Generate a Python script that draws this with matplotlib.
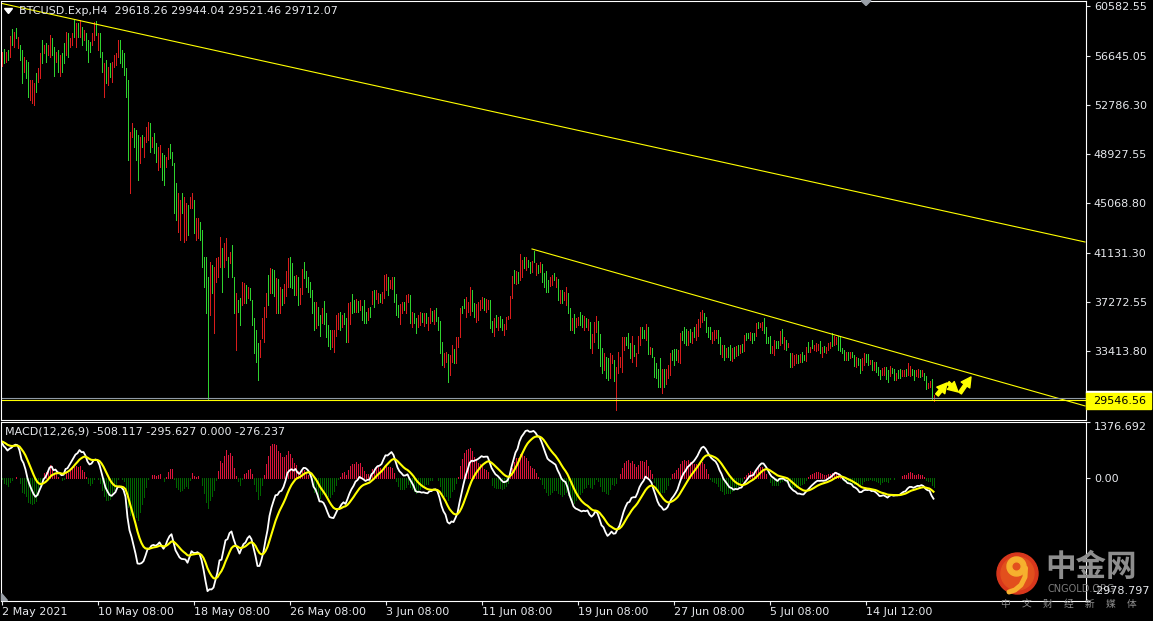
import numpy as np
import matplotlib
matplotlib.use("Agg")
import matplotlib.pyplot as plt
from matplotlib.patches import Polygon, Rectangle, Circle, Wedge

W, H = 1153, 621

# ---------------- data ----------------
symbol_text = "BTCUSD.Exp,H4  29618.26 29944.04 29521.46 29712.07"
macd_text = "MACD(12,26,9) -508.117 -295.627 0.000 -276.237"
last_macd, last_signal, last_hist = -508.117, -295.627, -276.237

# H4 bars, 2 May 2021 08:00 onwards
highs = [
    57020, 57200, 57020, 57150, 58260, 58780, 58600, 58860, 58200, 57550,
    57150, 56630, 56370, 56230, 54790, 54790, 54530, 55320, 55710, 56890,
    57940, 57550, 57680, 57550, 58330, 58070, 57420, 57020, 57150, 56760,
    56890, 57680, 58600, 58470, 58070, 58470, 59520, 59250, 59250, 59520,
    58990, 58730, 58470, 57940, 57810, 58470, 59380, 59460, 58470, 58470,
    57020, 56100, 56370, 55840, 56100, 56230, 56760, 56890, 57940, 57940,
    57150, 56890, 55710, 54790, 50720, 51380, 50980, 50850, 50460, 50330,
    50460, 50330, 51120, 51510, 51380, 50330, 50590, 49800, 49540, 49670,
    49020, 48880, 48750, 49410, 49750, 49150, 48230, 46650, 45870, 45340,
    45870, 45600, 45080, 44950, 45600, 45870, 45340, 43900, 43900, 43630,
    42980, 40880, 40880, 39300, 40480, 40220, 40090, 40750, 40880, 42450,
    41530, 41930, 42320, 40880, 41270, 41800, 39300, 37990, 37470, 37600,
    38910, 38780, 38650, 38520, 38380, 37470, 36020, 35100, 34050, 34320,
    36020, 36940, 37990, 39430, 39960,
    39880, 39830, 39170, 39120, 38520, 38310, 38730, 39780, 40780, 40880,
    40360, 39380, 39440, 39310, 38390, 39910, 40460, 39750, 39280, 38910,
    38260, 37340, 37340, 36890, 36290, 36810, 37390, 36420, 35500, 35110,
    35110, 35110, 36290, 36420, 36550, 36290, 36420, 36080, 37260, 37340,
    37940, 37470, 37520, 37420, 37470, 37000, 37470, 36550, 36860, 36940,
    38200, 38260, 38260, 38050, 37940, 38120, 39440, 39520, 39310, 39040,
    39310, 39310, 37940, 37070, 37150, 37340, 37340, 37860, 37910, 37860,
    36550, 36420, 36020, 36290, 36550, 36470, 36420, 36420, 36100, 36810,
    36630, 36680, 36810, 36100, 35810, 34160, 33270, 33400, 33220, 33140,
    33920, 33610, 34530, 34580, 36810, 37000, 37520, 37730, 37340, 38520,
    38260, 37260, 37150, 37310, 37470, 37730, 37600, 37520, 37470, 37470,
    35840, 36020, 36290, 36160, 36210, 35950, 35580, 36160, 36210, 37780,
    39360, 39830, 39780, 39700, 41090, 40620, 40830, 40830, 40620, 40490,
    40570, 41350, 40360, 40220, 40490,
    40300, 39570, 39750, 39040, 39310, 39440, 39570, 39310, 39120, 38260,
    38260, 38120, 38470, 37990, 36810, 36020, 36370, 36020, 36160, 36550,
    36290, 36210, 36020, 35950, 35760, 34790, 35760, 36210, 35840, 34790,
    33660, 33270, 33010, 32870, 33320, 33140, 32740, 32220, 33400, 33010,
    34530, 34530, 34580, 34900, 34060, 34630, 33920, 33320, 34630, 35370,
    35320, 35110, 35580, 35370, 33790, 33660, 33010, 32480, 32010, 32870,
    32010, 32010, 32010, 32350, 33320, 33530, 33580, 33580, 33530, 34840,
    35050, 35320, 35160, 35050, 35160, 34970, 35320, 35580, 35950, 36550,
    36680, 36420, 36100, 35370, 35370, 34970, 35110, 35110, 35110, 34580,
    33920, 33920, 33660, 33790, 33920, 33660, 33740, 33850, 33920, 33920,
    34000, 34710, 34840, 34840, 34970, 34840, 34840, 35680, 35760, 35680,
    35760, 36020, 35320, 34530, 34630, 33850, 34320, 34270, 34240, 35050,
    35160, 34530, 34320, 34060, 33270, 33270, 33140, 33220, 33140, 33220,
    33400, 33130, 33790, 34180, 33790, 34320, 33920, 34050, 34000, 34240,
    33790, 33840, 33740, 34050, 34180, 34890, 34630, 34580, 34630, 34580,
    33660, 33530, 33400, 33400, 33400, 33400, 33130, 33000, 32870, 32790,
    32870, 33320, 33210, 33210, 32740, 32740, 32610, 32610, 32220, 31950,
    32080, 32160, 32220, 31950, 32270, 32080, 32010, 31690, 31950, 32010,
    31950, 31950, 32010, 32480, 32270, 32010, 31950, 31950, 32010, 31950,
    31950, 31690, 31480, 30960, 31110, 31220, 29944.04,
]

lows = [
    55920, 56100, 56230, 56370, 56630, 57550, 57420, 58070, 57280, 56370,
    54530, 55450, 54920, 53480, 53220, 52950, 52820, 53870, 54660, 54920,
    56100, 56890, 56230, 56760, 56630, 56760, 55100, 56230, 55450, 55100,
    55450, 56100, 56760, 56630, 57420, 57550, 58200, 57420, 58200, 58200,
    57550, 57940, 57150, 56230, 57020, 57550, 57940, 58330, 57150, 56630,
    55450, 53480, 54530, 54400, 55050, 54660, 55840, 55970, 56630, 56100,
    55840, 55180, 53480, 48490, 45870, 50330, 49540, 48490, 46920, 48230,
    49540, 48750, 49930, 50070, 49150, 49540, 49020, 48360, 47700, 47970,
    46920, 46520, 47970, 48540, 48620, 48100, 44290, 43770, 42850, 42190,
    44290, 42060, 42190, 42580, 44680, 44680, 42720, 42190, 42320, 42190,
    40090, 38520, 36420, 29590, 36280, 37990, 34840, 38910, 39300, 40090,
    38120, 40090, 40620, 39300, 40350, 39300, 36420, 33530, 36550, 35500,
    37070, 37200, 37200, 37600, 37470, 35500, 33270, 32610, 31170, 33000,
    34450, 34180, 36150, 37070, 37990,
    37990, 37810, 36420, 36470, 36470, 37070, 37210, 37810, 38520, 38470,
    38390, 37860, 37890, 37070, 37150, 37910, 39170, 38520, 38100, 37730,
    36470, 35110, 35240, 35500, 34630, 35630, 35580, 34580, 33850, 33640,
    33740, 33400, 34630, 35160, 35110, 35370, 35550, 34190, 34190, 35580,
    36470, 36520, 36550, 36500, 36680, 35890, 35630, 35680, 35890, 36100,
    37150, 36890, 37520, 37210, 37340, 37210, 37600, 38260, 37860, 38390,
    38310, 37340, 36290, 36160, 35580, 36420, 36680, 36420, 37340, 35630,
    35320, 35680, 34840, 35370, 35500, 35760, 35420, 35680, 35110, 35630,
    35840, 35580, 35840, 35110, 33270, 32350, 32220, 32610, 31040, 31560,
    32610, 32480, 32530, 33790, 34580, 36420, 36810, 36160, 36550, 36290,
    36600, 36160, 35760, 35890, 36680, 36810, 36680, 36550, 36730, 35290,
    34970, 34630, 35320, 35110, 35370, 35110, 34710, 35160, 35950, 36020,
    37600, 38780, 38730, 38780, 39040, 39310, 39960, 39830, 40090, 39570,
    39700, 40490, 39440, 39620, 39700,
    38910, 38520, 38120, 38120, 38570, 38650, 39040, 38520, 37470, 37210,
    37210, 37470, 37070, 36420, 35110, 35110, 34840, 35370, 35500, 35500,
    35370, 35110, 35370, 35110, 33660, 33270, 34190, 34970, 33660, 32270,
    31750, 31960, 31300, 31170, 31300, 32480, 31120, 28810, 31690, 32220,
    31820, 33530, 33920, 33660, 32870, 32610, 33060, 32270, 33270, 33920,
    34450, 34450, 34320, 33220, 33220, 33010, 31430, 31300, 30640, 30640,
    30170, 30640, 30850, 31300, 31560, 32740, 32350, 32740, 32610, 32480,
    34320, 34060, 33920, 33920, 34190, 34060, 34580, 34320, 34630, 35370,
    35760, 35890, 34970, 34580, 34370, 34060, 34320, 34450, 34060, 33220,
    33010, 32740, 32950, 33010, 32740, 32690, 32870, 33060, 33140, 33270,
    33400, 33480, 34320, 34450, 34320, 34110, 34320, 34630, 35240, 35370,
    35110, 34840, 34060, 34060, 33270, 33320, 33140, 33660, 33660, 33920,
    34060, 33580, 33530, 33790, 32220, 32170, 32350, 32530, 32480, 32610,
    32610, 32740, 32690, 33400, 33400, 33660, 33530, 33480, 33530, 33270,
    33000, 33400, 33270, 33530, 33660, 33840, 33920, 34000, 33530, 33480,
    33270, 32740, 32740, 32740, 32870, 33000, 32270, 32220, 32350, 31690,
    31950, 32350, 32610, 32350, 32430, 31950, 31950, 31820, 31560, 31220,
    31560, 31560, 31220, 31030, 31480, 31690, 31170, 31170, 31300, 31300,
    31480, 31480, 31480, 31560, 31480, 31530, 31170, 31480, 31380, 31430,
    31480, 31170, 30430, 30510, 30640, 29590, 29521.46,
]

closes = [
    56750, 56380, 56820, 56560, 57850, 57860, 58310, 58270, 57970, 56650,
    55180, 56340, 55290, 54160, 54400, 54330, 54110, 54240, 55450, 56390,
    56560, 57390, 56600, 57350, 57910, 57090, 55680, 56820, 55870, 56340,
    55810, 56500, 58140, 57090, 57910, 58230, 58530, 58790, 58470, 59190,
    57910, 58530, 57480, 56650, 57220, 58230, 59020, 58620, 58140, 57090,
    55840, 55450, 54990, 55470, 55320, 55840, 56520, 56650, 57610, 56560,
    56170, 55600, 54030, 49300, 50200, 51120, 49910, 49080, 47810, 49800,
    49780, 49930, 50830, 51140, 49700, 50130, 49410, 48730, 49080, 49250,
    47440, 47110, 48560, 49200, 48910, 48360, 45270, 44490, 45100, 44550,
    44680, 44710, 44360, 43170, 45370, 45580, 43370, 43480, 43500, 42560,
    40810, 39110, 37530, 36800, 39430, 38540, 38780, 40290, 40480, 41860,
    38970, 41470, 41900, 39700, 41040, 39930, 37140, 36870, 36780, 36020,
    38450, 38380, 37570, 38280, 37700, 35990, 33950, 33240, 31890, 33990,
    35630, 36260, 37530, 37660, 39460,
    38470, 38310, 38490, 37130, 38010, 37390, 38350, 39280, 40210, 39070,
    38890, 38240, 39040, 37630, 38070, 39410, 39490, 38830, 38390, 38020,
    36920, 35660, 36810, 35840, 35050, 36520, 36020, 35040, 34270, 34000,
    34760, 34690, 35870, 36100, 35470, 36050, 35760, 34660, 36500, 36890,
    36840, 36760, 37280, 36730, 37270, 36170, 36090, 35890, 36630, 36310,
    38020, 37230, 38070, 37840, 37490, 37890, 38980, 39200, 38230, 38890,
    39060, 37840, 36710, 36390, 36760, 37100, 36840, 37490, 37770, 36180,
    36230, 35870, 35130, 36050, 36290, 35950, 36170, 35870, 35850, 36520,
    36040, 36400, 36080, 35350, 33900, 32800, 33010, 33200, 31590, 32740,
    33600, 32770, 34030, 34380, 36260, 36560, 36990, 37340, 37140, 37990,
    37020, 36430, 36810, 36960, 37270, 37490, 36920, 37280, 37280, 35840,
    35180, 35680, 35550, 35890, 35580, 35320, 35370, 35910, 36140, 37340,
    38910, 39040, 39520, 39020, 40580, 40290, 40170, 40580, 40220, 39800,
    40360, 40700, 40120, 39780, 40290,
    39260, 38780, 38530, 38360, 39120, 39240, 39170, 39110, 37890, 37990,
    37470, 37960, 38120, 36810, 35530, 35790, 35220, 35870, 36000, 35760,
    35600, 35930, 35530, 35740, 34190, 34410, 35370, 35890, 34210, 32900,
    32220, 32940, 31720, 31590, 32820, 32980, 31520, 31960, 32980, 32810,
    33850, 34280, 34080, 33980, 33160, 34130, 33270, 33060, 34290, 35000,
    34660, 34610, 35260, 33750, 33650, 33160, 31820, 31590, 30980, 31190,
    31550, 30980, 31720, 32090, 32870, 32940, 32660, 32950, 33290, 34250,
    34500, 34370, 34240, 34760, 34420, 34740, 34760, 35260, 35620, 36260,
    36440, 36020, 35260, 34780, 34620, 34740, 34910, 34950, 34320, 33560,
    33690, 33030, 33480, 33200, 33030, 33430, 33080, 33650, 33330, 33770,
    33560, 34400, 34450, 34550, 34820, 34290, 34450, 35420, 35370, 35600,
    35600, 35130, 34370, 34170, 33610, 33710, 34030, 33820, 33810, 34760,
    34330, 34290, 33730, 33990, 32480, 32990, 32940, 33040, 32640, 33060,
    32810, 32850, 33510, 33590, 33690, 33820, 33820, 33910, 33880, 33500,
    33590, 33500, 33620, 33920, 34050, 34100, 34450, 34430, 33800, 33750,
    33370, 32940, 33240, 32900, 33270, 33110, 32480, 32810, 32480, 31970,
    32640, 33080, 32770, 32560, 32660, 32150, 32450, 32020, 31720, 31400,
    31950, 32010, 31470, 31270, 32070, 31800, 31380, 31560, 31450, 31480,
    31830, 31830, 31610, 32240, 32070, 31650, 31360, 31830, 31850, 31560,
    31830, 31300, 30690, 30850, 30990, 29620, 29712.07,
]

# r = up bar (red), g = down bar (green)
bar_dir = (
    "rgrgrgrgrg" "grggrrrgrr" "grgrrggrgr" "ggrgrrgrgr" "grgggrrgrg"
    "grgrgrrrrg" "ggggrrgggr" "grrrgrggrr" "ggrrggggrr" "grrgrrgrrg"
    "ggggrgrrrr" "grrgrggrgg" "rrgrgggggr" "rrrgr"
    "ggrgrgrrrg" "ggrgrrgggg" "ggrggrgggg" "rrrrgrggrr" "ggrgrgggrg"
    "rgrrgrrrgr" "rgggrrgrrg" "rggrrgrgrr" "grggggrrgr" "rgrrrggrrr"
    "ggrrrrgrrg" "grgrggrrrr" "rgrgrrgrgg" "rgrgr"
    "ggggrrgrgr" "grrggrgrrg" "grgrgrrrgg" "grggrrgrrr" "rrgggrgrrr"
    "ggrgrggggg" "rgrrrgggrr" "gggrgrgrrr" "rggggrrrgg" "rgrggrgrgr"
    "grggrggrgr" "rggggrrggr" "grgrgrrrgr"
    "ggrgrgrrrg" "rgrrrgrrgg" "ggrgrggrgg" "rrggrgrggg" "rrggrggrgg"
    "rrgrrggrrg" "rggrrgr"
)

price_top, price_bottom = 61050, 28050
price_ticks = [60582.55, 56645.05, 52786.30, 48927.55, 45068.80, 41131.30, 37272.55, 33413.80]
level_price = 29546.56
bid_price = 29712.07

upper_line_bars, upper_line_prices = [-0.75, 541.75], [60850, 42030]
lower_line_bars, lower_line_prices = [265.25, 541.75], [41480, 29120]

# hand-drawn arrows near the end: (tail bar, tail price, head bar, head price)
arrows = [
    (467.75, 29980, 472.75, 30930),
    (473.25, 30930, 478.25, 30220),
    (479.25, 30140, 484.75, 31400),
]

macd_top, macd_bottom = 1376.692, -2978.797
macd_start, signal_start = 950.0, 900.0

time_tick_bars = [0, 48, 96, 144, 192, 240, 288, 336, 384, 432]
time_labels = ["2 May 2021", "10 May 08:00", "18 May 08:00", "26 May 08:00", "3 Jun 08:00",
               "11 Jun 08:00", "19 Jun 08:00", "27 Jun 08:00", "5 Jul 08:00", "14 Jul 12:00"]

# ---------------- MACD(12,26,9) from closes ----------------
closes_arr = np.array(closes, dtype=float)
a12, a26, a9 = 2 / 13, 2 / 27, 2 / 10
ema12 = closes_arr[0]
ema26 = closes_arr[0] - macd_start
sig = signal_start
macd_vals, sig_vals = [], []
for c in closes_arr:
    ema12 += a12 * (c - ema12)
    ema26 += a26 * (c - ema26)
    m = ema12 - ema26
    sig += a9 * (m - sig)
    macd_vals.append(m)
    sig_vals.append(sig)
macd_vals = np.array(macd_vals)
sig_vals = np.array(sig_vals)
hist_scale = last_hist / (last_macd - last_signal)
hist_vals = (macd_vals - sig_vals) * hist_scale

# ---------------- figure ----------------
fig = plt.figure(figsize=(W / 100, H / 100), dpi=100)
fig.patch.set_facecolor("black")
txt_col = "#e6e8ec"
fs = 8


def frac(x0, y0, x1, y1):
    return [x0 / W, 1 - y1 / H, (x1 - x0) / W, (y1 - y0) / H]


ax = fig.add_axes(frac(0.5, 0.5, 1085.5, 419.5))
ax2 = fig.add_axes(frac(0.5, 421.5, 1085.5, 600.5))
for a in (ax, ax2):
    a.set_facecolor("black")
    for s in a.spines.values():
        s.set_color("white")
        s.set_linewidth(0.8)
    a.set_xlim(-0.5, 542.0)

idx = np.arange(len(closes))
bar_cols = ["#d81c1c" if d == "r" else "#2ed22e" for d in bar_dir]
ax.vlines(idx, lows, highs, colors=bar_cols, linewidth=0.5, antialiased=False)

ax.plot(upper_line_bars, upper_line_prices, color="#ffff00", lw=0.8)
ax.plot(lower_line_bars, lower_line_prices, color="#ffff00", lw=0.8)
ax.axhline(bid_price, color="#8f9aa6", lw=0.8)
ax.axhline(level_price, color="#ffff00", lw=0.8)
for tb, tp, hb, hp in arrows:
    ax.annotate("", xy=(hb, hp), xytext=(tb, tp),
                arrowprops=dict(arrowstyle="simple,head_length=0.7,head_width=0.75,tail_width=0.25",
                                color="#ffff00", mutation_scale=10, shrinkA=0, shrinkB=0))

ax.set_ylim(price_bottom, price_top)
ax.yaxis.tick_right()
ax.set_yticks(price_ticks, [f"{p:.2f}" for p in price_ticks])
ax.tick_params(axis="y", colors=txt_col, labelsize=fs, length=3, width=0.8, pad=3)
ax.tick_params(axis="x", bottom=False, labelbottom=False)

# MACD window
ax2.vlines(idx, 0, hist_vals, colors=np.where(hist_vals >= 0, "#dc143c", "#006400"),
           linewidth=0.5, antialiased=False)
ax2.plot(idx, macd_vals, color="white", lw=1.3)
ax2.plot(idx, sig_vals, color="#ffff00", lw=1.5)
ax2.set_ylim(macd_bottom, macd_top)
ax2.yaxis.tick_right()
ax2.set_yticks([macd_top, 0, macd_bottom], ["1376.692", "0.00", ""])
ax2.tick_params(axis="y", colors=txt_col, labelsize=fs, length=3, width=0.8, pad=3)
ax2.get_yticklabels()[0].set_va("top")
ax2.set_xticks(time_tick_bars, time_labels)
ax2.tick_params(axis="x", colors=txt_col, labelsize=fs, length=3, width=0.8, pad=2)
for lbl in ax2.get_xticklabels():
    lbl.set_ha("left")

# overlay in pixel coordinates for labels and the watermark
ov = fig.add_axes([0, 0, 1, 1], zorder=10)
ov.set_xlim(0, W)
ov.set_ylim(H, 0)
ov.axis("off")
ov.patch.set_alpha(0)

ov.add_patch(Polygon([(4.5, 8.5), (12.5, 8.5), (8.5, 13.5)], closed=True, color="white"))
ov.text(19, 10.5, symbol_text, color=txt_col, fontsize=fs, va="center", ha="left")
ov.text(5, 432, macd_text, color=txt_col, fontsize=fs, va="center", ha="left")
ov.add_patch(Polygon([(861, 0.5), (871, 0.5), (866, 5.5)], closed=True, color="#9aa0a8"))
ov.add_patch(Polygon([(0.5, 593), (0.5, 600), (7, 600)], closed=True, color="#9aa0a8"))

ov.add_patch(Rectangle((1086, 391), 65, 1.5, color="white"))
ov.add_patch(Rectangle((1086, 392.5), 65, 16.5, color="#ffff00"))
ov.text(1093, 401, f"{level_price:.2f}", color="black", fontsize=fs, va="center", ha="left")

# watermark logo
ov.add_patch(Circle((1017.5, 573.5), 20.5, color="#d8371c"))
ov.add_patch(Circle((1017.5, 573.5), 16.5, color="#e24f1d"))
ov.add_patch(Wedge((1016.5, 566.5), 9.5, 0, 360, width=4.8, color="#f6b02e"))
ov.plot([1025.5, 1025, 1021, 1015, 1009], [568, 577, 585, 590, 592], color="#f6b02e",
        lw=3.6, solid_capstyle="round")
cjk = ["Noto Sans CJK SC", "DejaVu Sans"]
ov.text(1045, 567, "中金网", family=cjk, fontsize=22, fontweight="bold", color="#8e8e8e",
        va="center", ha="left")
ov.text(1047, 589, "CNGOLD.ORG", color="#7c7c7c", fontsize=7, va="center", ha="left")
ov.text(1092, 591, f"{macd_bottom:.3f}", color=txt_col, fontsize=fs, va="center", ha="left")
for k, ch in enumerate("中文财经新媒体"):
    ov.text(1000 + k * 21.2, 604, ch, family=cjk, fontsize=7, color="#8e8e8e",
            va="center", ha="left")

fig.savefig("out.png", dpi=100, facecolor="black")
